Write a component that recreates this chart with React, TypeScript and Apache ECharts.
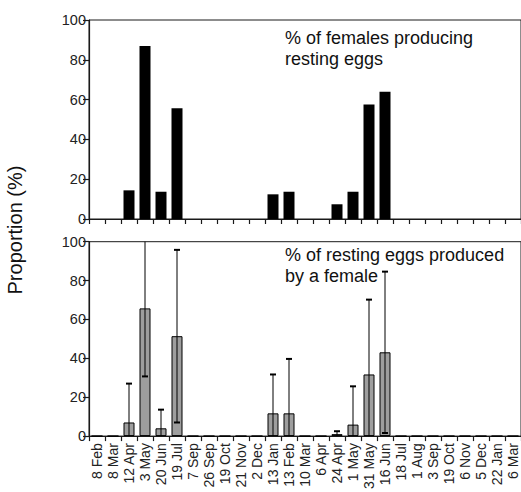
import React, { useEffect, useRef } from "react";
import * as echarts from "echarts";

const dates = [
  "8 Feb", "8 Mar", "12 Apr", "3 May", "20 Jun", "19 Jul", "7 Sep", "26 Sep", "19 Oct",
  "21 Nov", "2 Dec", "13 Jan", "13 Feb", "10 Mar", "6 Apr", "24 Apr", "1 May", "31 May",
  "16 Jun", "18 Jul", "1 Aug", "3 Sep", "19 Oct", "6 Nov", "5 Dec", "22 Jan", "6 Mar",
];
const femalesProducing = [
  0, 0, 14.4, 86.9, 13.7, 55.6, 0, 0, 0, 0, 0, 12.4, 13.7, 0, 0, 7.4, 13.7, 57.6, 64,
  0, 0, 0, 0, 0, 0, 0, 0,
];
const eggsPerFemale = [
  0, 0, 7, 65.7, 4, 51.4, 0, 0, 0, 0, 0, 11.7, 11.7, 0, 0, 1, 5.9, 31.7, 43.1,
  0, 0, 0, 0, 0, 0, 0, 0,
];
const eggsError = [
  0, 0, 20, 35, 9.6, 44.4, 0, 0, 0, 0, 0, 20, 28, 0, 0, 1.5, 19.7, 38.5, 41.5,
  0, 0, 0, 0, 0, 0, 0, 0,
];
const yTicks = [0, 20, 40, 60, 80, 100];

const FONT = "'Liberation Sans', Arial, Helvetica, sans-serif";
const INK = "#1a1a1a";

export default function App() {
  const ref = useRef<HTMLDivElement>(null);
  useEffect(() => {
    if (!ref.current) return;
    const chart = echarts.init(ref.current, undefined, { renderer: "svg" });
    const yMin = yTicks[0];
    const yMax = yTicks[yTicks.length - 1];
    const yInt = yTicks[1] - yTicks[0];
    const gridBase = {
      left: 89,
      right: -3,
      show: true,
      borderColor: INK,
      borderWidth: 1,
      backgroundColor: "transparent",
    };
    const yAxisBase = (gi: number) => ({
      type: "value" as const,
      gridIndex: gi,
      min: yMin,
      max: yMax,
      interval: yInt,
      splitLine: { show: false },
      axisLine: { show: true, lineStyle: { color: INK, width: 1.2 } },
      axisTick: { show: true, length: 6, lineStyle: { color: INK, width: 1.2 } },
      axisLabel: { fontSize: 14.5, color: "#222", fontFamily: FONT, margin: 3 },
    });
    const xAxisBase = (gi: number, showLabels: boolean) => ({
      type: "category" as const,
      gridIndex: gi,
      data: dates,
      boundaryGap: true,
      axisLine: { show: true, lineStyle: { color: INK, width: 1.2 } },
      axisTick: { show: true, length: 5, interval: 0, lineStyle: { color: INK, width: 1.2 } },
      axisLabel: {
        show: showLabels,
        interval: 0,
        rotate: 90,
        fontSize: 14,
        color: "#222",
        fontFamily: FONT,
        margin: 7,
      },
      splitLine: { show: false },
    });

    const errData = eggsPerFemale.map((v, i) => [i, v, eggsError[i]]);

    chart.setOption({
      animation: false,
      grid: [
        { ...gridBase, top: 20, bottom: 273 },
        { ...gridBase, top: 241.7, bottom: 51.3 },
      ],
      xAxis: [xAxisBase(0, false), xAxisBase(1, true)],
      yAxis: [yAxisBase(0), yAxisBase(1)],
      series: [
        {
          type: "bar",
          xAxisIndex: 0,
          yAxisIndex: 0,
          data: femalesProducing,
          barWidth: 11,
          itemStyle: { color: "#000" },
        },
        {
          type: "bar",
          xAxisIndex: 1,
          yAxisIndex: 1,
          data: eggsPerFemale,
          barWidth: 11,
          itemStyle: { color: "#9e9e9e", borderColor: "#000", borderWidth: 1 },
        },
        {
          type: "custom",
          xAxisIndex: 1,
          yAxisIndex: 1,
          data: errData,
          z: 5,
          renderItem: (params: any, api: any) => {
            const idx = api.value(0);
            const v = api.value(1);
            const e = api.value(2);
            if (!e) return null;
            const up = v + e;
            const lo = v - e;
            const upC = Math.min(yMax, up);
            const loC = Math.max(yMin, lo);
            const pUp = api.coord([idx, upC]);
            const pLo = api.coord([idx, loC]);
            const cap = 3;
            const style = { stroke: "#000", lineWidth: 1 };
            const children: any[] = [
              { type: "line", shape: { x1: pUp[0], y1: pUp[1], x2: pLo[0], y2: pLo[1] }, style },
            ];
            if (up <= yMax) {
              children.push({
                type: "line",
                shape: { x1: pUp[0] - cap, y1: pUp[1], x2: pUp[0] + cap, y2: pUp[1] },
                style: { stroke: "#000", lineWidth: 2 },
              });
            }
            if (lo >= yMin) {
              children.push({
                type: "line",
                shape: { x1: pLo[0] - cap, y1: pLo[1], x2: pLo[0] + cap, y2: pLo[1] },
                style: { stroke: "#000", lineWidth: 2 },
              });
            }
            return { type: "group", children };
          },
        },
      ],
      graphic: [
        {
          type: "text",
          left: 285,
          top: 27,
          style: {
            text: "% of females producing\nresting eggs",
            fontSize: 18,
            lineHeight: 21,
            fontFamily: FONT,
            fill: "#111",
          },
        },
        {
          type: "text",
          left: 285,
          top: 244,
          style: {
            text: "% of resting eggs produced\nby a female",
            fontSize: 18,
            lineHeight: 21,
            fontFamily: FONT,
            fill: "#111",
          },
        },
        {
          type: "text",
          x: 15,
          y: 230,
          rotation: Math.PI / 2,
          style: {
            text: "Proportion (%)",
            fontSize: 20,
            fontFamily: FONT,
            fill: "#111",
            textAlign: "center",
            textVerticalAlign: "middle",
          },
        },
      ],
    });
    return () => chart.dispose();
  }, []);
  return (
    <div
      ref={ref}
      style={{ position: "absolute", left: 0, top: 0, width: 521, height: 492, background: "#fff" }}
    />
  );
}
